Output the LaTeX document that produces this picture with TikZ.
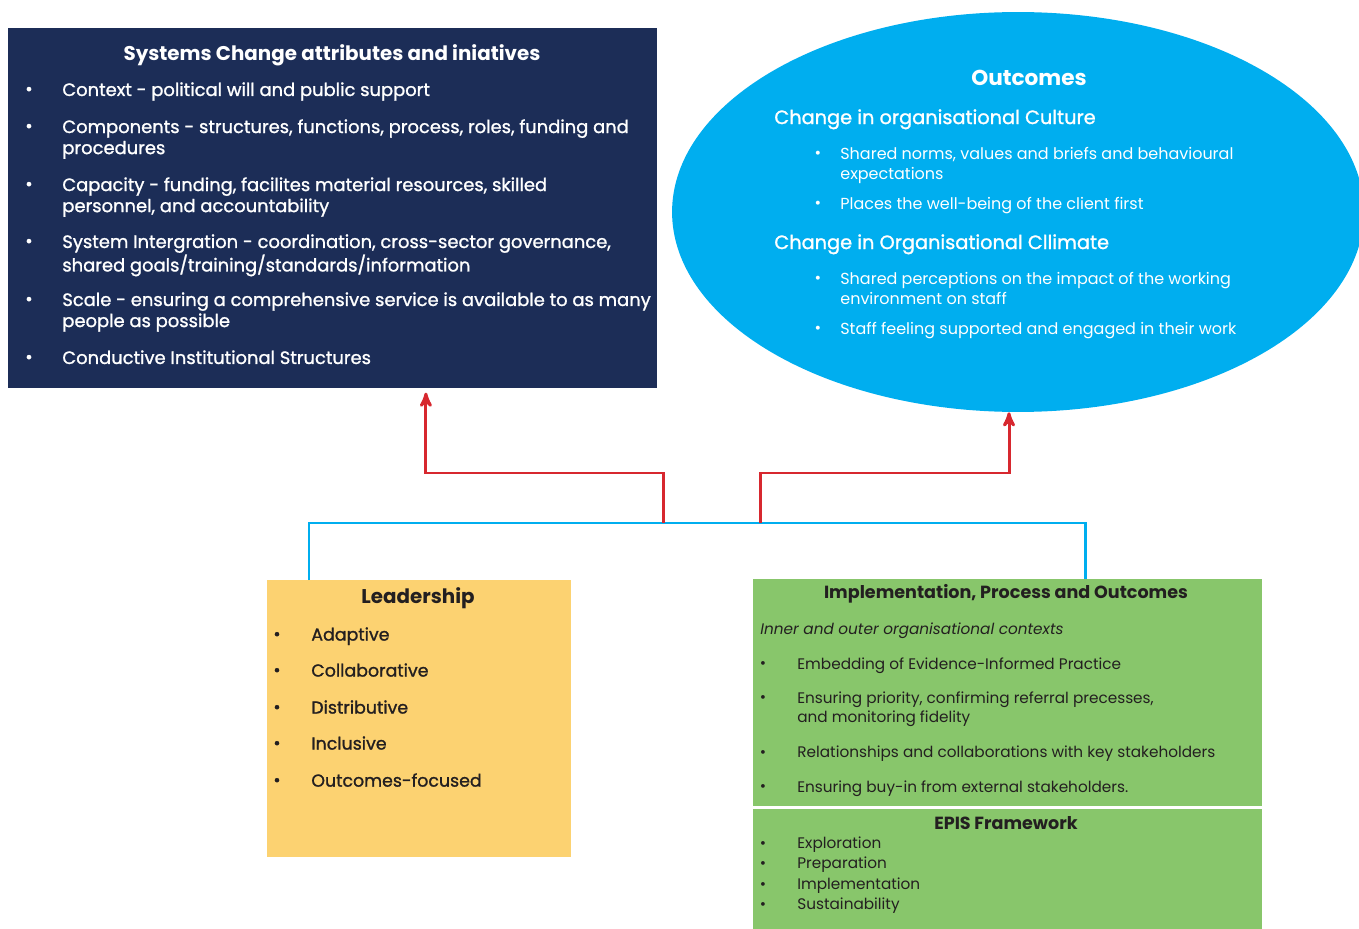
\documentclass[tikz,border=0pt]{standalone}
\usepackage{fontspec}
\setmainfont{Poppins}
\newfontfamily\medfont{Poppins}[FakeBold=1.2]
\usetikzlibrary{arrows,positioning,shapes.geometric}
\definecolor{navy}{HTML}{1C2D57}
\definecolor{sky}{HTML}{00AEEF}
\definecolor{sand}{HTML}{FCD271}
\definecolor{leaf}{HTML}{88C66B}
\definecolor{alarm}{HTML}{D7282F}
\definecolor{ink}{HTML}{231F20}
\tikzset{
  box/.style={rectangle,inner sep=0pt,anchor=north west},
  hd/.style={inner sep=0pt,font=\bfseries\fontsize{11.3}{13}\selectfont},
  li/.style={anchor=north west,align=left,inner sep=0pt},
  dot/.style={inner sep=0pt},
  navtx/.style={text=white,font=\medfont\fontsize{10.2}{12}\selectfont},
  ovtx/.style={text=white,font=\fontsize{9.1}{11.4}\selectfont},
  ldtx/.style={text=ink,font=\medfont\fontsize{9.9}{12}\selectfont},
  grtx/.style={text=ink,font=\fontsize{8.7}{10.8}\selectfont},
  cyl/.style={draw=sky,line width=1.7pt},
  arr/.style={draw=alarm,line width=1.7pt,-stealth'}
}
\begin{document}
\begin{tikzpicture}[x=0.02cm,y=-0.02cm]
\useasboundingbox (0,0) rectangle (1359,929);
\node at (8,28)[box,fill=navy,minimum width=12.98cm,minimum height=7.2cm](nav){};
\node at (332,55)[hd,text=white](navt){Systems Change attributes and iniatives};
\node at (29,91)[dot,navtx](nb1){\textbullet};
\node at (29,128)[dot,navtx](nb2){\textbullet};
\node at (29,186)[dot,navtx](nb3){\textbullet};
\node at (29,243)[dot,navtx](nb4){\textbullet};
\node at (29,301)[dot,navtx](nb5){\textbullet};
\node at (29,359)[dot,navtx](nb6){\textbullet};
\node at (62,82)[li,navtx](ni1){Context - political will and public support};
\node at (62,119)[li,navtx](ni2){Components - structures, functions, process, roles, funding and\\procedures};
\node at (62,177)[li,navtx](ni3){Capacity - funding, facilites material resources, skilled\\personnel, and accountability};
\node at (62,234)[li,navtx](ni4){System Intergration - coordination, cross-sector governance,\\shared goals/training/standards/information};
\node at (62,292)[li,navtx](ni5){Scale - ensuring a comprehensive service is available to as many\\people as possible};
\node at (62,350)[li,navtx](ni6){Conductive Institutional Structures};
\node at (1018,212)[ellipse,fill=sky,minimum width=13.84cm,minimum height=8cm,inner sep=0pt](outc){};
\node at (1029,78)[hd,text=white,font=\bfseries\fontsize{12.3}{14}\selectfont](outt){Outcomes};
\node at (774,109)[li,text=white,font=\medfont\fontsize{11}{12}\selectfont](oh1){Change in organisational Culture};
\node at (818,155)[dot,ovtx](ob1){\textbullet};
\node at (818,205)[dot,ovtx](ob2){\textbullet};
\node at (840,147)[li,ovtx](oi1){Shared norms, values and briefs and behavioural\\expectations};
\node at (840,197)[li,ovtx](oi2){Places the well-being of the client first};
\node at (774,234)[li,text=white,font=\medfont\fontsize{11}{12}\selectfont](oh2){Change in Organisational Cllimate};
\node at (818,280)[dot,ovtx](ob3){\textbullet};
\node at (818,330)[dot,ovtx](ob4){\textbullet};
\node at (840,272)[li,ovtx](oi3){Shared perceptions on the impact of the working\\environment on staff};
\node at (840,322)[li,ovtx](oi4){Staff feeling supported and engaged in their work};
\node at (267,580)[box,fill=sand,minimum width=6.08cm,minimum height=5.54cm](lead){};
\node at (418,598)[hd,text=ink](leadt){Leadership};
\node at (277,636)[dot,ldtx](lb1){\textbullet};
\node at (277,672)[dot,ldtx](lb2){\textbullet};
\node at (277,709)[dot,ldtx](lb3){\textbullet};
\node at (277,745)[dot,ldtx](lb4){\textbullet};
\node at (277,782)[dot,ldtx](lb5){\textbullet};
\node at (311,627)[li,ldtx](li1){Adaptive};
\node at (311,663)[li,ldtx](li2){Collaborative};
\node at (311,700)[li,ldtx](li3){Distributive};
\node at (311,736)[li,ldtx](li4){Inclusive};
\node at (311,773)[li,ldtx](li5){Outcomes-focused};
\node at (753,579)[box,fill=leaf,minimum width=10.18cm,minimum height=4.54cm](imp){};
\node[box,below=0.04cm of imp.south west,anchor=north west,fill=leaf,minimum width=10.18cm,minimum height=2.42cm](epis){};
\node at (1006,594)[hd,text=ink,font=\bfseries\fontsize{10}{12}\selectfont](impt){Implementation, Process and Outcomes};
\node at (760,623)[li,grtx,font=\itshape\fontsize{8.7}{10.8}\selectfont](ictx){Inner and outer organisational contexts};
\node at (763,665)[dot,grtx](gb1){\textbullet};
\node at (763,699)[dot,grtx](gb2){\textbullet};
\node at (763,754)[dot,grtx](gb3){\textbullet};
\node at (763,788)[dot,grtx](gb4){\textbullet};
\node at (797,657)[li,grtx](gi1){Embedding of Evidence-Informed Practice};
\node at (797,691)[li,grtx](gi2){Ensuring priority, confirming referral precesses,\\and monitoring fidelity};
\node at (797,746)[li,grtx](gi3){Relationships and collaborations with key stakeholders};
\node at (797,780)[li,grtx](gi4){Ensuring buy-in from external stakeholders.};
\node at (1006,823)[hd,text=ink,font=\bfseries\fontsize{10}{12}\selectfont](epist){EPIS Framework};
\node at (763,845)[dot,grtx](eb1){\textbullet};
\node at (763,865)[dot,grtx](eb2){\textbullet};
\node at (763,886)[dot,grtx](eb3){\textbullet};
\node at (763,906)[dot,grtx](eb4){\textbullet};
\node at (797,837)[li,grtx](ei1){Exploration};
\node at (797,857)[li,grtx](ei2){Preparation};
\node at (797,878)[li,grtx](ei3){Implementation};
\node at (797,898)[li,grtx](ei4){Sustainability};
\coordinate (hl) at (663,523);
\coordinate (hr) at (760,523);
\draw[cyl] ([xshift=0.84cm]lead.north west) -- ++(0,-57) -| ([xshift=6.66cm]imp.north west);
\draw[arr] (hl) -- ++(0,-50) -| ([xshift=8.36cm,yshift=-0.08cm]nav.south west);
\draw[arr] (hr) -- ++(0,-50) -| ([xshift=-0.18cm]outc.south);
\end{tikzpicture}
\end{document}
